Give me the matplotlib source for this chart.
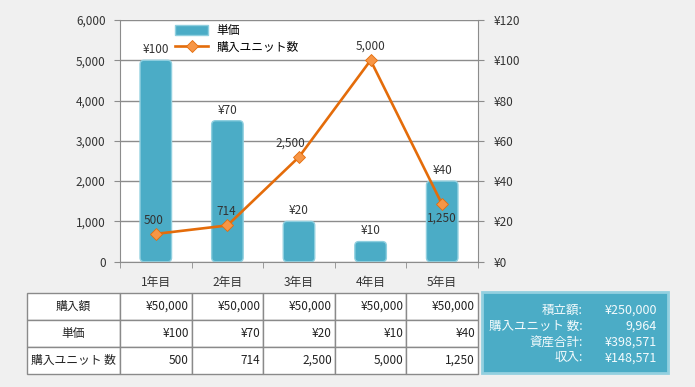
import matplotlib
matplotlib.use('Agg')
import matplotlib.pyplot as plt
from matplotlib.patches import FancyBboxPatch, Rectangle
from matplotlib.ticker import FuncFormatter, MultipleLocator, FixedLocator

plt.rcParams['font.family'] = ['Noto Sans CJK JP', 'DejaVu Sans']
plt.rcParams['font.size'] = 8

# data
years = ['1年目', '2年目', '3年目', '4年目', '5年目']
purchase = [50000, 50000, 50000, 50000, 50000]
price = [100, 70, 20, 10, 40]
units = [500, 714, 2500, 5000, 1250]
units_drawn = [690, 900, 2600, 5000, 1420]   # where the markers sit in the picture
summary_labels = ['積立額:', '購入ユニット 数:', '資産合計:', '収入:']
summary_values = ['¥250,000', '9,964', '¥398,571', '¥148,571']

W, H = 695, 387
BAR_C = '#4bacc6'
LINE_C = '#e46c0a'
MARK_C = '#f79646'
GRID_C = '#8c8c8c'
TXT_C = '#333333'

fig = plt.figure(figsize=(W / 100, H / 100), dpi=100)
fig.patch.set_facecolor('#f0f0f0')

x0, x1, y0, y1 = 120, 478, 20, 261.7
ax = fig.add_axes([x0 / W, 1 - y1 / H, (x1 - x0) / W, (y1 - y0) / H])
ax.set_facecolor('white')
xs = list(range(len(years)))

# bars on the yen axis (right side)
ax.set_xlim(-0.5, len(years) - 0.5)
ax.set_ylim(0, 120)
bw = 0.44
rects = ax.bar(xs, price, width=bw, color=BAR_C, zorder=2)
px_x = (x1 - x0) / (len(years))
px_y = (y1 - y0) / 120
r_px = 4
for rc in rects:
    bx, by, w, h = rc.get_x(), rc.get_y(), rc.get_width(), rc.get_height()
    rc.remove()
    p = FancyBboxPatch((bx, by), w, h,
                       boxstyle=f"round,pad=0,rounding_size={r_px / px_x}",
                       mutation_aspect=px_x / px_y,
                       facecolor=BAR_C, edgecolor='#8fcfdf', linewidth=1, zorder=2)
    ax.add_patch(p)
for x, v in zip(xs, price):
    ax.annotate(f'¥{v}', (x, v), xytext=(0, 3), textcoords='offset points',
                ha='center', va='bottom', fontsize=8.5, color=TXT_C)

ax.grid(axis='y', color=GRID_C, linewidth=1)
ax.set_axisbelow(True)
ax.set_xticks(xs)
ax.set_xticklabels(years)
ax.xaxis.set_minor_locator(FixedLocator([i + 0.5 for i in range(-1, len(years))]))
ax.tick_params(axis='x', which='major', length=0, pad=10, labelsize=8.5, colors=TXT_C)
ax.tick_params(axis='x', which='minor', length=4, color=GRID_C)
ax.spines['top'].set_visible(False)
for s in ['left', 'right', 'bottom']:
    ax.spines[s].set_color(GRID_C)

# line on the units axis (left side)
ax2 = ax.twinx()
ax.yaxis.tick_right()
ax.yaxis.set_major_locator(MultipleLocator(20))
ax.yaxis.set_major_formatter(FuncFormatter(lambda v, p: f'¥{v:.0f}'))
ax.tick_params(axis='y', length=4, color=GRID_C, pad=7.5, labelsize=8.5, labelcolor=TXT_C)
ax2.yaxis.tick_left()
ax2.set_ylim(0, 6000)
ax2.yaxis.set_major_locator(MultipleLocator(1000))
ax2.yaxis.set_major_formatter(FuncFormatter(lambda v, p: f'{v:,.0f}'))
ax2.tick_params(axis='y', length=4, color=GRID_C, pad=6.3, labelsize=8.5, labelcolor=TXT_C)
for s in ax2.spines.values():
    s.set_visible(False)
line, = ax2.plot(xs, units_drawn, color=LINE_C, linewidth=1.9, marker='D',
                 markersize=6.5, markerfacecolor=MARK_C, markeredgecolor=LINE_C,
                 markeredgewidth=0.6, zorder=3)
offs = [(-1.5, 9.5), (-1, 10), (-6, 10), (0, 10), (0, -10)]
for x, yd, u, o in zip(xs, units_drawn, units, offs):
    ax2.annotate(f'{u:,}', (x, yd), xytext=o, textcoords='offset points',
                 ha='center', va='center', fontsize=8.5, color=TXT_C)

bar_handle = Rectangle((0, 0), 1, 1, facecolor=BAR_C, edgecolor='#8fcfdf')
fig.legend([bar_handle, line], ['単価', '購入ユニット数'], loc='upper left',
           bbox_to_anchor=(175 / W, 1 - 24 / H), frameon=False, fontsize=8.5,
           borderpad=0, borderaxespad=0, handlelength=2.8, handleheight=1.0,
           handletextpad=0.7, labelspacing=0.3)

# table under the chart
tx0, tx1, ty0, ty1 = 27, 478, 293, 373.5
tax = fig.add_axes([tx0 / W, 1 - ty1 / H, (tx1 - tx0) / W, (ty1 - ty0) / H])
tax.axis('off')
rows = [['購入額'] + [f'¥{v:,}' for v in purchase],
        ['単価'] + [f'¥{v}' for v in price],
        ['購入ユニット 数'] + [f'{v:,}' for v in units]]
first_w = 93 / (tx1 - tx0)
other_w = (1 - first_w) / len(years)
tbl = tax.table(cellText=rows, cellLoc='right', colWidths=[first_w] + [other_w] * len(years),
                bbox=[0, 0, 1, 1])
tbl.auto_set_font_size(False)
tbl.set_fontsize(8.5)
for (r, c), cell in tbl.get_celld().items():
    cell.set_edgecolor('#8a8a8a')
    cell.set_linewidth(1)
    cell.set_facecolor('white')
    cell.PAD = 0.04
    cell.get_text().set_color('#222222')
    if c == 0:
        cell._loc = 'center'
        cell.get_text().set_ha('center')

# summary box
sx0, sx1, sy0, sy1 = 482, 668, 292, 373
fig.patches.append(Rectangle((sx0 / W, 1 - sy1 / H), (sx1 - sx0) / W, (sy1 - sy0) / H,
                             transform=fig.transFigure, facecolor=BAR_C,
                             edgecolor='#93d0e0', linewidth=2))
for i, (lab, val) in enumerate(zip(summary_labels, summary_values)):
    yy = 1 - (310 + i * 16) / H
    fig.text(583 / W, yy, lab, ha='right', va='center', fontsize=9, color='#f4fbfd')
    fig.text(657 / W, yy, val, ha='right', va='center', fontsize=9, color='#f4fbfd')

fig.savefig('out.png', dpi=100, facecolor=fig.get_facecolor())
